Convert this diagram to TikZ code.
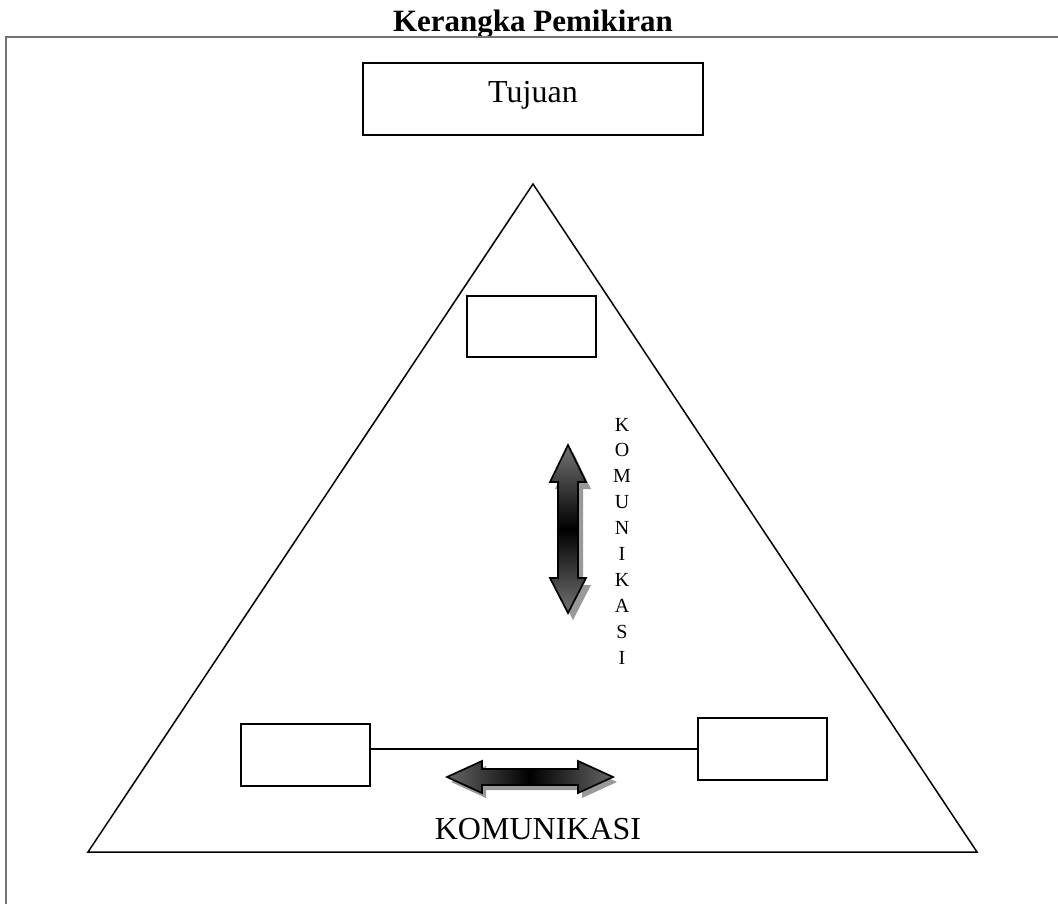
\documentclass[tikz,border=0pt]{standalone}
\usepackage{fontspec}
\setmainfont{Liberation Serif}
\begin{document}
\begin{tikzpicture}[x=1pt,y=-1pt,
  box/.style={draw=black, line width=1.6pt, fill=white, inner sep=0pt},
  tri/.style={draw=black, line width=1.5pt, line join=miter},
  frameline/.style={draw=black!55, line width=2pt},
  arrshadow/.style={fill=black!40},
  vshade/.style={draw=black, line width=1.7pt, top color=black!55, bottom color=black!55, middle color=black},
  hshade/.style={draw=black, line width=1.7pt, left color=black!60, right color=black!60, middle color=black},
  label/.style={inner sep=0pt, text=black}]
\useasboundingbox (0,0) rectangle (1058,904);
% title and frame
\node[label, anchor=base, font=\fontsize{31}{36}\selectfont\bfseries] (title) at (533,32) {Kerangka Pemikiran};
\draw[frameline] (6,904) -- (6,37) -- (1060,37);
% goal box
\node[box, minimum width=340pt, minimum height=72pt, text depth=14pt, font=\fontsize{32}{38}\selectfont] (tujuan) at (533,99) {Tujuan};
% triangle
\coordinate (apex) at (533,184);
\coordinate (bl) at (88,852);
\coordinate (br) at (977,852);
\draw[tri] (apex) -- (bl) -- (br) -- cycle;
% boxes
\node[box, minimum width=129pt, minimum height=61pt] (top) at (531.5,326.5) {};
\node[box, minimum width=129pt, minimum height=62pt] (lbox) at (305.5,755) {};
\node[box, minimum width=129pt, minimum height=62pt] (rbox) at (762.5,749) {};
\draw[line width=1.4pt] (lbox.east |- rbox.west) -- (rbox.west);
% vertical double arrow
\fill[arrshadow, shift={(5,7)}] (568,445) -- (586,482) -- (578,482) -- (578,578) -- (586,578) -- (568,613) -- (550,578) -- (558,578) -- (558,482) -- (550,482) -- cycle;
\shade[vshade] (568,445) -- (586,482) -- (578,482) -- (578,578) -- (586,578) -- (568,613) -- (550,578) -- (558,578) -- (558,482) -- (550,482) -- cycle;
% horizontal double arrow
\fill[arrshadow, shift={(4,5)}] (447,777) -- (482,761) -- (482,769) -- (578,769) -- (578,761) -- (613,777) -- (578,793) -- (578,785) -- (482,785) -- (482,793) -- cycle;
\shade[hshade] (447,777) -- (482,761) -- (482,769) -- (578,769) -- (578,761) -- (613,777) -- (578,793) -- (578,785) -- (482,785) -- (482,793) -- cycle;
% labels
\node[label, align=center, font=\fontsize{20}{25.9}\selectfont] (vlabel) at (622,541) {K\\O\\M\\U\\N\\I\\K\\A\\S\\I};
\node[label, anchor=base, font=\fontsize{32}{38}\selectfont] (hlabel) at (538,839) {KOMUNIKASI};
\end{tikzpicture}
\end{document}
